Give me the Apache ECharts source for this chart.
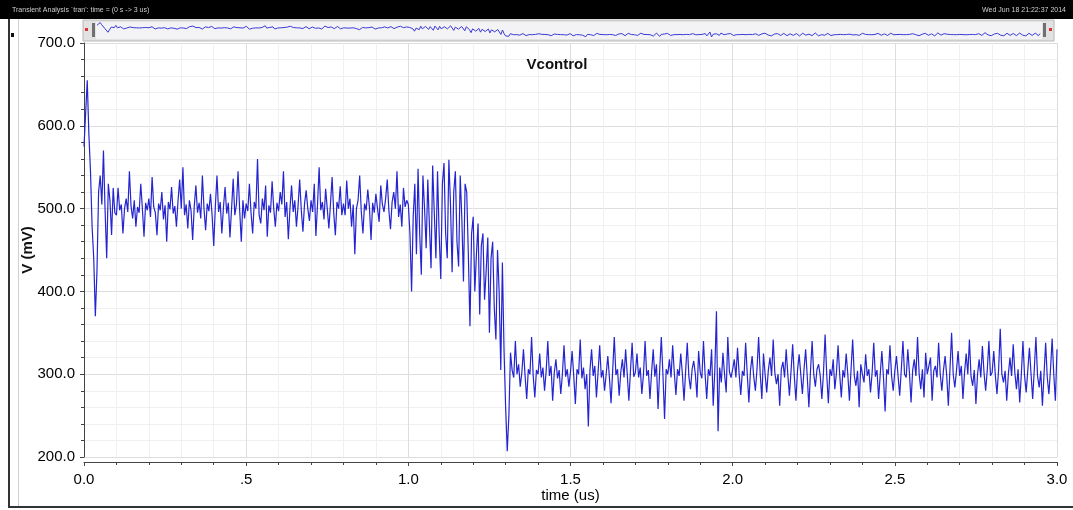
<!DOCTYPE html>
<html>
<head>
<meta charset="utf-8">
<script src="https://cdn.jsdelivr.net/npm/echarts@6/dist/echarts.min.js"></script>
<style>
  html, body { margin: 0; padding: 0; background: #fff; }
  #chart { width: 1073px; height: 510px; }
</style>
</head>
<body>
<div id="chart"></div>
<script>
// Transient waveform of Vcontrol, sampled every 5 ns (time axis in us, values in mV)
const sampleStep = 0.005;

// 0 .. 0.095 us : start-up overshoot and ringing
const vStartup = [575, 615, 655, 590, 545, 478, 440, 370, 425, 520,
                  540, 505, 570, 498, 440, 530, 510, 468, 525, 495];

// 0.1 .. 0.995 us : settled near 500 mV
const vSettledHigh = [
  492, 525, 498, 505, 470, 500, 512, 496, 545, 503, 488, 510, 478, 502, 495, 530, 500, 466, 507, 498,
  512, 490, 538, 502, 495, 468, 506, 498, 520, 487, 504, 460, 508, 499, 526, 494, 503, 478, 510, 535,
  500, 550, 492, 505, 476, 510, 498, 462, 503, 528, 495, 507, 488, 540, 500, 474, 506, 497, 518, 492,
  455, 503, 540, 496, 508, 470, 502, 526, 494, 507, 465, 500, 536, 492, 505, 545, 498, 460, 510, 488,
  506, 497, 530, 495, 470, 508, 500, 560, 492, 482, 512, 498, 528, 466, 504, 495, 533, 500, 478, 507,
  497, 520, 505, 545, 490, 508, 463, 500, 528, 496, 510, 478, 503, 535, 498, 472, 506, 522, 500, 485,
  510, 496, 530, 467, 505, 550, 498, 508, 487, 524, 500, 476, 506, 538, 495, 468, 508, 500, 527, 492,
  506, 492, 534, 500, 512, 478, 505, 445, 500, 510, 540, 496, 470, 506, 498, 523, 502, 462, 507, 495,
  518, 500, 484, 528, 505, 496, 512, 535, 498, 475, 508, 520, 500, 545, 490, 505, 478, 525, 502, 510
];

// 1.0 .. 1.395 us : oscillation, then the drop to the low level
const vTransition = [
  505, 470, 400, 490, 530, 445, 548, 470, 420, 540, 500, 452, 535, 480, 428, 552, 495, 440, 545, 470,
  415, 530, 555, 470, 440, 559, 505, 423, 520, 545, 460, 430, 540, 488, 412, 530, 520, 445, 358, 470,
  490, 400, 445, 482, 372, 455, 470, 390, 425, 465, 350, 440, 460, 380, 342, 450, 400, 305, 435, 330,
  260, 207, 250, 326, 305, 296, 340, 300, 312, 285, 302, 330, 298, 270, 306, 300, 345, 298, 272, 305
];

// 1.4 .. 3.0 us : settled near 300 mV
const vSettledLow = [
  300, 325, 296, 308, 280, 304, 340, 298, 310, 268, 302, 318, 295, 305, 276, 300, 335, 297, 306, 285,
  303, 328, 298, 264, 306, 300, 342, 295, 308, 282, 300, 237, 305, 330, 298, 310, 272, 302, 335, 296,
  305, 280, 300, 322, 296, 265, 304, 345, 299, 306, 274, 302, 318, 296, 330, 300, 268, 305, 338, 297,
  302, 325, 296, 308, 276, 300, 340, 298, 305, 270, 302, 330, 297, 312, 258, 305, 345, 300, 246, 306,
  300, 318, 296, 335, 302, 275, 306, 298, 325, 300, 268, 304, 338, 297, 282, 306, 316, 300, 272, 328,
  302, 295, 340, 300, 270, 306, 298, 330, 262, 305, 376, 231, 308, 290, 326, 300, 278, 345, 303, 296,
  306, 318, 296, 332, 300, 275, 304, 298, 338, 300, 266, 305, 322, 297, 280, 306, 345, 300, 270, 325,
  300, 278, 305, 320, 298, 342, 302, 288, 300, 262, 306, 315, 296, 330, 300, 274, 304, 336, 298, 268,
  305, 324, 300, 276, 306, 330, 297, 260, 304, 340, 300, 285, 306, 312, 298, 270, 302, 348, 300, 265,
  306, 298, 318, 282, 302, 335, 300, 272, 305, 296, 325, 300, 268, 306, 342, 298, 286, 304, 260, 312,
  300, 290, 324, 298, 306, 278, 302, 338, 297, 305, 270, 300, 328, 296, 255, 306, 300, 335, 298, 280,
  304, 322, 298, 274, 306, 340, 300, 296, 330, 302, 266, 305, 318, 298, 345, 300, 282, 306, 272, 326,
  300, 298, 320, 268, 304, 310, 296, 338, 300, 280, 305, 322, 298, 262, 306, 350, 300, 284, 304, 328,
  298, 310, 270, 302, 325, 300, 342, 297, 286, 305, 264, 300, 318, 296, 334, 302, 280, 305, 340, 298,
  302, 328, 298, 276, 306, 355, 300, 290, 304, 268, 300, 320, 298, 336, 302, 282, 306, 266, 300, 340,
  298, 278, 305, 332, 300, 270, 306, 345, 298, 284, 304, 262, 300, 338, 296, 276, 306, 343, 300, 268, 330
];

const xTickLabels = ['0.0', '.5', '1.0', '1.5', '2.0', '2.5', '3.0'];
const plotTitle = 'Vcontrol';
const xAxisName = 'time (us)';
const yAxisName = 'V (mV)';
const windowTitle = "Transient Analysis `tran': time = (0 s -> 3 us)";
const windowDate = 'Wed Jun 18 21:22:37 2014';

const volts = [].concat(vStartup, vSettledHigh, vTransition, vSettledLow);
const points = volts.map((v, i) => [+(i * sampleStep).toFixed(3), v]);

const FONT = '"Liberation Sans", Arial, sans-serif';
const TRACE = '#2424d0';

const chart = echarts.init(document.getElementById('chart'), null, { renderer: 'canvas' });

chart.setOption({
  animation: false,
  backgroundColor: '#ffffff',
  title: {
    text: plotTitle, left: 552, top: 52, textAlign: 'center',
    textStyle: { fontSize: 15, fontWeight: 'bold', color: '#111', fontFamily: FONT }
  },
  grid: [
    { left: 84, right: 16, top: 43, bottom: 53 },
    { left: 97, right: 33, top: 21, height: 17 }
  ],
  xAxis: [
    {
      type: 'value', gridIndex: 0, min: 0, max: 3, interval: 0.5, offset: 5,
      axisLine: { show: true, lineStyle: { color: '#444', width: 1 } },
      axisTick: { show: true, length: 4, lineStyle: { color: '#444' } },
      minorTick: { show: true, splitNumber: 5, length: 3, lineStyle: { color: '#444' } },
      splitLine: { show: true, lineStyle: { color: '#dddddd', width: 1 } },
      minorSplitLine: { show: true, lineStyle: { color: '#f0f0f0', width: 1 } },
      axisLabel: {
        margin: 10, fontSize: 15, color: '#000', fontFamily: FONT,
        formatter: v => xTickLabels[Math.round(v / 0.5)]
      },
      name: xAxisName, nameLocation: 'middle', nameGap: 26, nameMoveOverlap: false,
      nameTextStyle: { fontSize: 15, color: '#000', fontFamily: FONT }
    },
    { type: 'value', gridIndex: 1, min: 0, max: 3, show: false }
  ],
  yAxis: [
    {
      type: 'value', gridIndex: 0, min: 200, max: 700, interval: 100, offset: 6,
      axisLine: { show: true, lineStyle: { color: '#444', width: 1 } },
      axisTick: { show: true, length: 4, lineStyle: { color: '#444' } },
      minorTick: { show: true, splitNumber: 5, length: 3, lineStyle: { color: '#444' } },
      splitLine: { show: true, lineStyle: { color: '#dddddd', width: 1 } },
      minorSplitLine: { show: true, lineStyle: { color: '#f0f0f0', width: 1 } },
      axisLabel: {
        margin: 3, fontSize: 15, color: '#000', fontFamily: FONT,
        formatter: v => v.toFixed(1)
      },
      name: yAxisName, nameLocation: 'middle', nameGap: 43, nameMoveOverlap: false,
      nameTextStyle: { fontSize: 15, fontWeight: 'bold', color: '#111', fontFamily: FONT }
    },
    { type: 'value', gridIndex: 1, min: 200, max: 700, show: false }
  ],
  graphic: [
    // window header
    { type: 'rect', shape: { x: 0, y: 0, width: 1073, height: 19 }, style: { fill: '#000' } },
    { type: 'text', x: 12, y: 10, style: { text: windowTitle, fontSize: 7, fontFamily: FONT, fill: '#cfcfcf', verticalAlign: 'middle' } },
    { type: 'text', x: 1066, y: 10, style: { text: windowDate, fontSize: 7, fontFamily: FONT, fill: '#cfcfcf', align: 'right', verticalAlign: 'middle' } },
    // overview strip
    { type: 'rect', shape: { x: 83, y: 20, width: 971, height: 21 }, style: { fill: '#e2e2e2', stroke: '#b8b8b8', lineWidth: 1 } },
    { type: 'rect', shape: { x: 96, y: 22, width: 946, height: 17 }, style: { fill: '#f3f3f5' } },
    { type: 'rect', shape: { x: 85, y: 28, width: 3, height: 3 }, style: { fill: '#e03030' } },
    { type: 'rect', shape: { x: 92, y: 23, width: 3, height: 14 }, style: { fill: '#707070' } },
    { type: 'rect', shape: { x: 1043, y: 23, width: 3, height: 14 }, style: { fill: '#707070' } },
    { type: 'rect', shape: { x: 1049, y: 28, width: 3, height: 3 }, style: { fill: '#e03030' } },
    // window frame
    { type: 'rect', shape: { x: 8, y: 19, width: 2, height: 489 }, style: { fill: '#333' } },
    { type: 'rect', shape: { x: 18, y: 19, width: 1, height: 487 }, style: { fill: '#d0d0d0' } },
    { type: 'rect', shape: { x: 8, y: 506, width: 1065, height: 2 }, style: { fill: '#333' } },
    { type: 'rect', shape: { x: 11, y: 33, width: 3, height: 4 }, style: { fill: '#111' } }
  ],
  series: [
    {
      type: 'line', xAxisIndex: 0, yAxisIndex: 0, data: points,
      showSymbol: false, symbol: 'none',
      lineStyle: { color: TRACE, width: 1.2 }
    },
    {
      type: 'line', xAxisIndex: 1, yAxisIndex: 1, data: points,
      showSymbol: false, symbol: 'none',
      lineStyle: { color: '#3a3ad6', width: 1 }
    }
  ]
});
</script>
</body>
</html>
